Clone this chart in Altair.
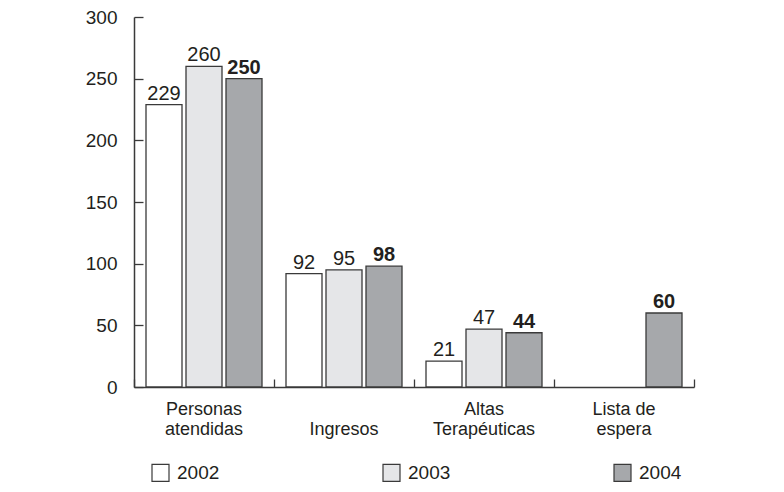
import altair as alt
import pandas as pd

categories = ["Personas atendidas", "Ingresos", "Altas Terapéuticas", "Lista de espera"]
years = ["2002", "2003", "2004"]
v2002 = [229, 92, 21, None]
v2003 = [260, 95, 47, None]
v2004 = [250, 98, 44, 60]
colors = ["#ffffff", "#e5e6e8", "#a6a8ab"]

rows = []
for yr, vals in zip(years, [v2002, v2003, v2004]):
    for c, v in zip(categories, vals):
        if v is not None:
            rows.append({"categoria": c, "anio": yr, "valor": v})
df = pd.DataFrame(rows)

FONT = "Liberation Sans, Arial, sans-serif"
INK = "#231f20"

label_expr = (
    "datum.label == 'Personas atendidas' ? ['Personas', 'atendidas'] : "
    "datum.label == 'Ingresos' ? ['', 'Ingresos'] : "
    "datum.label == 'Altas Terapéuticas' ? ['Altas', 'Terapéuticas'] : "
    "['Lista de', 'espera']"
)

x_scale = alt.Scale(paddingInner=0, paddingOuter=0)
xo_scale = alt.Scale(paddingInner=0.1, paddingOuter=0.3)
y_scale = alt.Scale(domain=[0, 300])
yvals = [0, 50, 100, 150, 200, 250, 300]

bars = alt.Chart(df).mark_bar(stroke="#3a3a3a", strokeWidth=1.3).encode(
    x=alt.X("categoria:N", sort=categories, scale=x_scale, title=None,
            axis=alt.Axis(orient="bottom", labelAngle=0, ticks=False, domain=True,
                          domainColor="#3a3a3a", domainWidth=1.5,
                          labelExpr=label_expr, labelFont=FONT, labelFontSize=18,
                          labelColor=INK, labelPadding=27, labelLineHeight=20,
                          labelBaseline="alphabetic")),
    xOffset=alt.XOffset("anio:N", sort=years, scale=xo_scale),
    y=alt.Y("valor:Q", scale=y_scale, title=None,
            axis=alt.Axis(orient="left", values=yvals,
                          ticks=False, domain=True, domainColor="#3a3a3a", domainWidth=1.5,
                          labelFont=FONT, labelFontSize=19, labelColor=INK,
                          labelPadding=17, grid=False)),
    fill=alt.Fill("anio:N", scale=alt.Scale(domain=years, range=colors),
                  legend=alt.Legend(orient="none", legendX=17, legendY=446,
                                    direction="horizontal", columns=3, title=None,
                                    symbolType="square", symbolSize=289,
                                    symbolStrokeColor="#3a3a3a", symbolStrokeWidth=1.2,
                                    labelFont=FONT, labelFontSize=19, labelColor=INK,
                                    labelOffset=7, columnPadding=160, padding=0)),
)

text_normal = alt.Chart(df).transform_filter(alt.datum.anio != "2004").mark_text(
    baseline="alphabetic", dy=-5, font=FONT, fontSize=20, color=INK).encode(
    x=alt.X("categoria:N", sort=categories, scale=x_scale, title=None,
            axis=alt.Axis(orient="top", offset=-370, tickBand="extent", ticks=True,
                          tickSize=8, tickColor="#3a3a3a", tickWidth=1.3,
                          labels=False, domain=False, grid=False)),
    xOffset=alt.XOffset("anio:N", sort=years, scale=xo_scale),
    y=alt.Y("valor:Q", scale=y_scale, title=None,
            axis=alt.Axis(orient="right", offset=-560, values=yvals,
                          ticks=True, tickSize=9, tickColor="#3a3a3a", tickWidth=1.3,
                          labels=False, domain=False, grid=False)),
    text=alt.Text("valor:Q"),
)

text_bold = alt.Chart(df).transform_filter(alt.datum.anio == "2004").mark_text(
    baseline="alphabetic", dy=-5, font=FONT, fontSize=20, fontWeight="bold", color=INK).encode(
    x=alt.X("categoria:N", sort=categories, scale=x_scale, axis=None),
    xOffset=alt.XOffset("anio:N", sort=years, scale=xo_scale),
    y=alt.Y("valor:Q", scale=y_scale, axis=None),
    text=alt.Text("valor:Q"),
)

chart = alt.layer(bars, text_normal, text_bold).resolve_axis(
    x="independent", y="independent").properties(
    width=560, height=370,
    autosize=alt.AutoSizeParams(type="none"),
    padding={"left": 126, "top": 9, "right": 82, "bottom": 97},
).configure_view(stroke=None).configure_axis(grid=False)

chart.save("out.html", embed_options={"renderer": "svg", "actions": False})
